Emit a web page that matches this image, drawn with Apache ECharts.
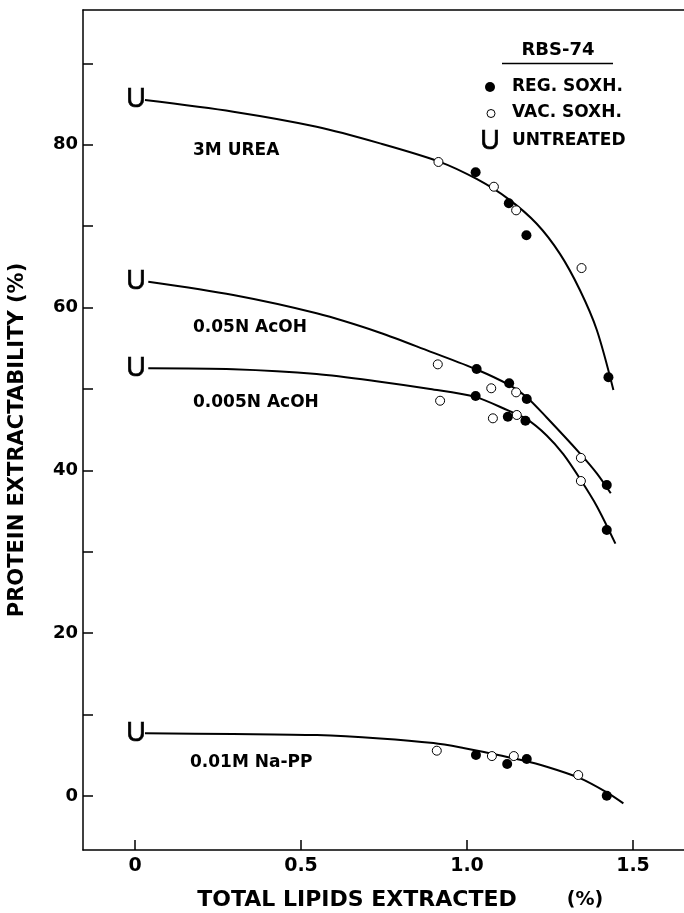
<!DOCTYPE html>
<html>
<head>
<meta charset="utf-8">
<script src="https://cdn.jsdelivr.net/npm/echarts@6/dist/echarts.min.js"></script>
<style>
html,body{margin:0;padding:0;background:#fff;}
#chart{width:684px;height:913px;}
</style>
</head>
<body>
<div id="chart"></div>
<script>
// ---- data ----
const xTicks = [0, 0.5, 1.0, 1.5];
const yTicks = [0, 10, 20, 30, 40, 50, 60, 70, 80, 90];
const yLabels = [0, 20, 40, 60, 80];

const treatmentNames = ['3M UREA', '0.05N AcOH', '0.005N AcOH', '0.01M Na-PP'];
const legendNames = ['REG. SOXH.', 'VAC. SOXH.', 'UNTREATED'];
const panelTitle = 'RBS-74';
const xTitle = 'TOTAL LIPIDS EXTRACTED';
const xUnit = '(%)';
const yTitle = 'PROTEIN EXTRACTABILITY (%)';

// fitted curves (traced)
const ureaCurve = [[0.03,85.5],[0.296,84.07],[0.547,82.22],[0.738,80.18],[0.914,77.97],[1.029,75.8],[1.126,73.3],[1.21,70.3],[1.28,66.6],[1.34,62.16],[1.391,57.25],[1.441,49.88]];
const acoh05Curve = [[0.04,63.18],[0.296,61.55],[0.547,59.3],[0.738,56.92],[0.889,54.6],[1.029,52.4],[1.127,50.5],[1.18,49.0],[1.24,46.5],[1.34,42.1],[1.391,39.64],[1.433,37.19]];
const acoh005Curve = [[0.04,52.54],[0.296,52.42],[0.547,51.84],[0.738,50.9],[0.889,50.0],[1.026,49.0],[1.122,47.4],[1.18,46.3],[1.24,44.3],[1.29,42.0],[1.34,39.0],[1.391,35.6],[1.447,31.0]];
const napCurve = [[0.03,7.7],[0.295,7.62],[0.548,7.49],[0.738,7.08],[0.899,6.5],[0.989,5.9],[1.075,5.2],[1.16,4.45],[1.24,3.6],[1.34,2.2],[1.421,0.45],[1.471,-0.9]];

// regular soxhlet (filled)
const ureaReg = [[1.026,76.62],[1.126,72.81],[1.179,68.88],[1.426,51.44]];
const acoh05Reg = [[1.029,52.46],[1.127,50.7],[1.18,48.77],[1.421,38.21]];
const acoh005Reg = [[1.026,49.14],[1.123,46.6],[1.176,46.11],[1.421,32.68]];
const napReg = [[1.027,5.04],[1.121,3.93],[1.18,4.55],[1.421,0.04]];

// vacuum soxhlet (open)
const ureaVac = [[0.914,77.89],[1.081,74.85],[1.148,71.95],[1.345,64.86]];
const acoh05Vac = [[0.912,53.03],[1.073,50.09],[1.148,49.59],[1.343,41.54]];
const acoh005Vac = [[0.919,48.56],[1.078,46.4],[1.15,46.81],[1.343,38.7]];
const napVac = [[0.909,5.57],[1.075,4.91],[1.141,4.91],[1.335,2.58]];

// untreated
const untreated = [[0,85.5],[0,63.2],[0,52.5],[0,7.7]];

// ---- chart ----
const FONT = 'DejaVu Sans, Liberation Sans, sans-serif';
const UFONT = '"Liberation Sans Narrow", "Liberation Sans", sans-serif';
const chart = echarts.init(document.getElementById('chart'), null, {renderer: 'canvas'});

function curve(data) {
  return {
    type: 'line', data: data, showSymbol: false, symbol: 'none',
    smooth: 0.3,
    lineStyle: {color: '#000', width: 2}, z: 2, silent: true
  };
}

function txt(text, x, y, size, align) {
  return {
    type: 'text', x: x, y: y, silent: true,
    style: {text: text, fill: '#000', fontFamily: FONT, fontWeight: 'bold',
      fontSize: size, textAlign: align || 'left', textVerticalAlign: 'middle'}
  };
}

const option = {
  animation: false,
  backgroundColor: '#fff',
  grid: {left: 83, right: 0, top: 10, bottom: 63},
  xAxis: [{
    type: 'value', min: -0.1566, max: 1.6536, position: 'bottom',
    axisLine: {show: true, onZero: false, lineStyle: {color: '#000', width: 1.5}},
    axisTick: {show: true, inside: true, length: 10, customValues: xTicks, lineStyle: {color: '#000', width: 1.5}},
    axisLabel: {show: true, customValues: xTicks, margin: 7, color: '#000', fontFamily: FONT, fontWeight: 'bold', fontSize: 19,
      formatter: v => v === 0 ? '0' : v.toFixed(1)},
    splitLine: {show: false}
  }, {
    type: 'value', min: -0.1566, max: 1.6536, position: 'top',
    axisLine: {show: true, onZero: false, lineStyle: {color: '#000', width: 1.5}},
    axisTick: {show: false}, axisLabel: {show: false}, splitLine: {show: false}
  }],
  yAxis: {
    type: 'value', min: -6.63, max: 96.56,
    axisLine: {show: true, onZero: false, lineStyle: {color: '#000', width: 1.5}},
    axisTick: {show: true, inside: true, length: 10, customValues: yTicks, lineStyle: {color: '#000', width: 1.5}},
    axisLabel: {show: true, customValues: yLabels, margin: 5, color: '#000', fontFamily: FONT, fontWeight: 'bold', fontSize: 18},
    splitLine: {show: false}
  },
  series: [
    curve(ureaCurve), curve(acoh05Curve), curve(acoh005Curve), curve(napCurve),
    {
      name: legendNames[0], type: 'scatter', symbol: 'circle', symbolSize: 10, z: 4,
      itemStyle: {color: '#000', opacity: 1},
      data: [].concat(ureaReg, acoh05Reg, acoh005Reg, napReg)
    },
    {
      name: legendNames[1], type: 'scatter', symbol: 'circle', symbolSize: 9, z: 4,
      itemStyle: {color: '#fff', borderColor: '#000', borderWidth: 1, opacity: 1},
      data: [].concat(ureaVac, acoh05Vac, acoh005Vac, napVac)
    },
    {
      name: legendNames[2], type: 'scatter', symbol: 'circle', symbolSize: 1, z: 5,
      itemStyle: {color: 'rgba(0,0,0,0)', opacity: 1},
      label: {show: true, position: 'inside', offset: [1, 0], formatter: 'U', color: '#000', opacity: 1,
        fontFamily: UFONT, fontSize: 27, fontWeight: 'normal', textBorderColor: '#000', textBorderWidth: 0.6},
      data: untreated
    }
  ],
  graphic: [
    txt(treatmentNames[0], 193, 151, 17),
    txt(treatmentNames[1], 193, 328, 17),
    txt(treatmentNames[2], 193, 403, 17),
    txt(treatmentNames[3], 190, 763, 17),
    txt(panelTitle, 558, 50, 18, 'center'),
    {type: 'line', silent: true, shape: {x1: 502, y1: 63.5, x2: 613, y2: 63.5}, style: {stroke: '#000', lineWidth: 1.5}},
    {type: 'circle', silent: true, shape: {cx: 490, cy: 87, r: 5}, style: {fill: '#000'}},
    txt(legendNames[0], 512, 87, 17),
    {type: 'circle', silent: true, shape: {cx: 491, cy: 113.5, r: 4}, style: {fill: '#fff', stroke: '#000', lineWidth: 1}},
    txt(legendNames[1], 512, 113, 17),
    {type: 'text', x: 490, y: 141.5, silent: true,
      style: {text: 'U', fill: '#000', fontFamily: UFONT, fontSize: 27, textAlign: 'center', textVerticalAlign: 'middle',
        stroke: '#000', lineWidth: 0.6}},
    txt(legendNames[2], 512, 141, 17),
    txt(xTitle, 357, 900, 22, 'center'),
    txt(xUnit, 585, 900, 19, 'center'),
    {type: 'text', x: 18, y: 440, rotation: Math.PI / 2, silent: true,
      style: {text: yTitle, fill: '#000', fontFamily: FONT, fontWeight: 'bold', fontSize: 21,
        textAlign: 'center', textVerticalAlign: 'middle'}}
  ]
};
chart.setOption(option);
</script>
</body>
</html>
